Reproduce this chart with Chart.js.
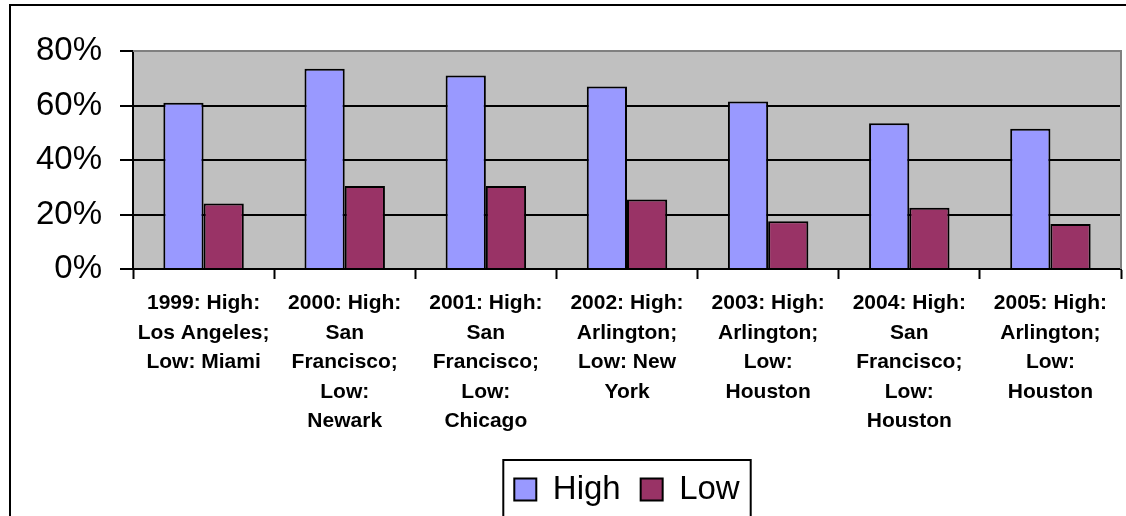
<!DOCTYPE html>
<html>
<head>
<meta charset="utf-8">
<script src="https://cdn.jsdelivr.net/npm/chart.js@4.4.1/dist/chart.umd.min.js"></script>
<style>
    html, body { margin: 0; padding: 0; background: #fff; overflow: hidden; }
    #wrap { position: relative; width: 1126px; height: 516px; }
</style>
</head>
<body>
<div id="wrap"><canvas id="myBarChart" width="1126" height="516"></canvas></div>
<script>
// du lieu doc tu hinh
var _labels = [
    ['1999: High:', 'Los Angeles;', 'Low: Miami'],
    ['2000: High:', 'San', 'Francisco;', 'Low:', 'Newark'],
    ['2001: High:', 'San', 'Francisco;', 'Low:', 'Chicago'],
    ['2002: High:', 'Arlington;', 'Low: New', 'York'],
    ['2003: High:', 'Arlington;', 'Low:', 'Houston'],
    ['2004: High:', 'San', 'Francisco;', 'Low:', 'Houston'],
    ['2005: High:', 'Arlington;', 'Low:', 'Houston']
];
var highValues = [61, 73.5, 71, 67, 61.5, 53.5, 51.5];
var lowValues = [24, 30.5, 30.5, 25.5, 17.5, 22.5, 16.5];
var yTicks = [0, 20, 40, 60, 80];

var FONT = '"Liberation Sans", Arial, Helvetica, sans-serif';

// nen xam + khung vien
var khungPlugin = {
    id: 'khung',
    afterLayout: function (chart) {
        // canh legend theo vung ve
        var lg = chart.legend;
        if (lg) {
            lg.left = chart.chartArea.left;
            lg.right = chart.chartArea.right;
        }
    },
    beforeDraw: function (chart) {
        var ctx = chart.ctx, a = chart.chartArea;
        ctx.save();
        ctx.fillStyle = '#C0C0C0';
        ctx.fillRect(a.left, a.top, a.right - a.left, a.bottom - a.top);
        // vien ngoai (trai + tren)
        ctx.strokeStyle = '#000';
        ctx.lineWidth = 2;
        ctx.beginPath();
        ctx.moveTo(10, 600);
        ctx.lineTo(10, 5);
        ctx.lineTo(1130, 5);
        ctx.stroke();
        ctx.restore();
    },
    beforeDatasetsDraw: function (chart) {
        var ctx = chart.ctx, a = chart.chartArea;
        ctx.save();
        ctx.strokeStyle = '#808080';
        ctx.lineWidth = 2;
        ctx.beginPath();
        ctx.moveTo(a.left, a.top);
        ctx.lineTo(a.right, a.top);
        ctx.lineTo(a.right, a.bottom);
        ctx.stroke();
        ctx.restore();
    },
    afterDraw: function (chart) {
        var lg = chart.legend;
        if (!lg || !lg.legendHitBoxes.length) return;
        var boxes = lg.legendHitBoxes;
        var first = boxes[0], last = boxes[boxes.length - 1];
        var ctx = chart.ctx;
        ctx.save();
        ctx.strokeStyle = '#000';
        ctx.lineWidth = 2;
        ctx.strokeRect(first.left - 11, first.top - 13, (last.left + last.width + 11) - (first.left - 11), 100);
        ctx.restore();
    }
};

function buildBarChart() {
    var data = {
        labels: _labels,
        datasets: [
            {
                label: 'High',
                backgroundColor: '#9999FF',
                borderColor: '#000',
                borderWidth: 2,
                data: highValues
            },
            {
                label: 'Low',
                backgroundColor: '#993366',
                borderColor: '#000',
                borderWidth: 2,
                data: lowValues
            }
        ]
    };

    var options = {
        responsive: false,
        animation: false,
        layout: { padding: { top: 51, right: 5, left: 0, bottom: 0 } },
        datasets: {
            bar: { categoryPercentage: 0.57, barPercentage: 1 }
        },
        plugins: {
            tooltip: { enabled: false },
            legend: {
                position: 'bottom',
                labels: {
                    color: '#000',
                    font: { family: FONT, size: 33 },
                    boxWidth: 22,
                    boxHeight: 22,
                    padding: 20
                }
            }
        },
        scales: {
            x: {
                offset: true,
                grid: {
                    offset: true,
                    drawOnChartArea: false,
                    drawTicks: true,
                    tickLength: 10,
                    tickColor: '#000',
                    tickWidth: 2
                },
                border: { color: '#000', width: 2 },
                ticks: {
                    color: '#000',
                    maxRotation: 0,
                    autoSkip: false,
                    padding: 10,
                    font: { family: FONT, size: 21, weight: 'bold', lineHeight: 1.4 }
                },
                afterFit: function (axis) { axis.height = 184; }
            },
            y: {
                min: 0,
                max: 80,
                afterBuildTicks: function (axis) {
                    axis.ticks = yTicks.map(function (v) { return { value: v }; });
                },
                grid: {
                    color: function (c) { return c.tick && c.tick.value === 80 ? '#808080' : '#000'; },
                    lineWidth: 2,
                    tickLength: 13,
                    tickColor: '#000',
                    tickWidth: 2
                },
                border: { color: '#000', width: 2 },
                ticks: {
                    color: '#000',
                    padding: 18,
                    font: { family: FONT, size: 33 },
                    callback: function (v) { return v + '%'; }
                },
                afterFit: function (axis) { axis.width = 133; }
            }
        }
    };

    var ctx = document.getElementById('myBarChart').getContext('2d');
    return new Chart(ctx, { type: 'bar', data: data, options: options, plugins: [khungPlugin] });
}
var _myChart = buildBarChart();
</script>
</body>
</html>
